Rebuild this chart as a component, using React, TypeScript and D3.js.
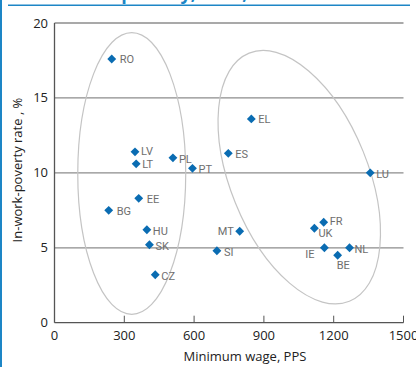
import React from "react";
import * as d3 from "d3";

const countries = ["RO","LV","LT","PL","PT","EE","BG","HU","SK","CZ","EL","ES","LU","MT","SI","UK","FR","IE","BE","NL"];
const minWage = [246,346,351,509,593,362,233,397,408,433,846,747,1357,796,698,1117,1157,1160,1217,1268];
const poverty = [17.6,11.4,10.6,11.0,10.3,8.3,7.5,6.2,5.2,3.2,13.6,11.3,10.0,6.1,4.8,6.3,6.7,5.0,4.5,5.0];
// label placement: [dx, dy, anchor]
const labelPos: [number, number, string][] = [
  [8,0,"start"],[6,-1,"start"],[6,0,"start"],[6,1,"start"],[6,1,"start"],
  [8,1,"start"],[8,1,"start"],[6,1,"start"],[6,1,"start"],[6,1,"start"],
  [7,0,"start"],[7,1,"start"],[6,1,"start"],[-6,0,"end"],[7,1,"start"],
  [4,5,"start"],[6,-1,"start"],[-10,6,"end"],[-1,10,"start"],[5,1,"start"],
];
const xTicks = [0,300,600,900,1200,1500];
const yTicks = [0,5,10,15,20];
// ellipses in data units: cx, cy, rx (PPS), ry (%), rotation (deg)
const ellCx = [332, 1052];
const ellCy = [9.96, 9.71];
const ellRx = [232, 296];
const ellRy = [9.4, 8.93];
const ellRot = [0, -22];

const W = 416, H = 367;

export default function App() {
  const x = d3.scaleLinear().domain([0, 1500]).range([54.5, 403.5]);
  const y = d3.scaleLinear().domain([0, 20]).range([322.7, 23]);
  const diamond = d3.symbol().type(d3.symbolDiamond2).size(50)();
  const labelFont = "'Liberation Sans Narrow', 'Arial Narrow', 'Roboto', sans-serif";
  const font = "'Open Sans', 'Noto Sans', sans-serif";
  return (
    <svg width={W} height={H} style={{ position: "absolute", left: 0, top: 0 }} fontFamily={font}>
      <rect x={0} y={0} width={W} height={H} fill="#fff" />
      {/* frame */}
      <line x1={1} x2={1} y1={0} y2={H} stroke="#1d86c6" strokeWidth={2} />
      <line x1={8} x2={410} y1={5.3} y2={5.3} stroke="#1d86c6" strokeWidth={1.5} />
      <text x={196} y={-0.5} textAnchor="end" fontSize={18} fontWeight="bold" fill="#1d86c6">Minimum wage and in-work poverty,</text>
      <text x={201} y={-0.5} fontSize={18} fontWeight="bold" fill="#1d86c6">2014, in EU</text>
      {/* gridlines */}
      {yTicks.filter(t => t > 0).map(t => (
        <line key={t} x1={x(0)} x2={x(1500)} y1={y(t)} y2={y(t)} stroke="#8c8c8c" strokeWidth={1.3} />
      ))}
      {/* axes */}
      <line x1={x(0)} x2={x(0)} y1={y(20)} y2={y(0)} stroke="#555" strokeWidth={1.3} />
      <line x1={x(0)} x2={x(1500)} y1={y(0)} y2={y(0)} stroke="#555" strokeWidth={1.3} />
      {xTicks.filter(t => t > 0).map(t => (
        <line key={t} x1={x(t)} x2={x(t)} y1={y(0)} y2={y(0) - 7} stroke="#555" strokeWidth={1} />
      ))}
      {yTicks.map(t => (
        <text key={t} x={48} y={y(t)} dy="0.35em" textAnchor="end" fontSize={13} fill="#222">{t}</text>
      ))}
      {xTicks.map(t => (
        <text key={t} x={x(t)} y={340} textAnchor="middle" fontSize={13} fill="#222">{t}</text>
      ))}
      <text x={245} y={361} textAnchor="middle" fontSize={13} fill="#222">Minimum wage, PPS</text>
      <text transform={`translate(22,170) rotate(-90)`} textAnchor="middle" fontSize={13} fill="#222">In-work-poverty rate , %</text>
      {/* ellipses */}
      {ellCx.map((cx, i) => (
        <ellipse key={i}
          transform={`translate(${x(cx)},${y(ellCy[i])}) rotate(${ellRot[i]})`}
          rx={x(ellRx[i]) - x(0)} ry={y(0) - y(ellRy[i])}
          fill="none" stroke="#c4c4c4" strokeWidth={1.2} />
      ))}
      {/* points */}
      {countries.map((c, i) => (
        <g key={c} transform={`translate(${x(minWage[i])},${y(poverty[i])})`}>
          <path d={diamond} fill="#0a6cb2" />
          <text x={labelPos[i][0]} y={labelPos[i][1]} dy="0.35em" textAnchor={labelPos[i][2]}
            fontSize={11} fill="#6e6e6e" fontFamily={labelFont}>{c}</text>
        </g>
      ))}
    </svg>
  );
}
